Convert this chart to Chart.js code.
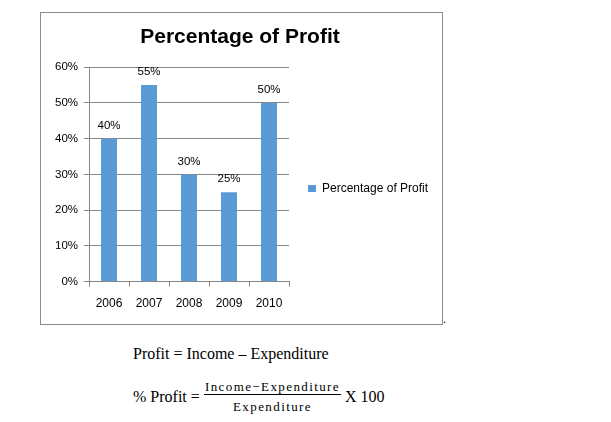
<!DOCTYPE html>
<html>
<head>
<meta charset="utf-8">
<script src="https://cdn.jsdelivr.net/npm/chart.js@4"></script>
<style>
  body { margin: 0; background: #fff; width: 611px; height: 422px; position: relative; overflow: hidden; }
  #box { position: absolute; left: 40px; top: 12px; width: 403px; height: 313px; border: 1px solid #8c8c8c; box-sizing: border-box; }
  #box canvas { display: block; }
  .f { position: absolute; font-family: "Liberation Serif", "DejaVu Serif", serif; font-size: 16px; color: #000; white-space: nowrap; }
  .frac { position: absolute; font-family: "Liberation Serif", serif; font-size: 13px; letter-spacing: 1.4px; text-align: center; white-space: nowrap; }
</style>
</head>
<body>
<div id="box"><canvas id="profitChart" width="401" height="311"></canvas></div>
<div class="f" style="left:443px; top:312px; font-size:12px;">.</div>

<div class="f" style="left:133px; top:345px;">Profit = Income – Expenditure</div>
<div class="f" style="left:133px; top:388px;">% Profit =</div>
<div class="frac" style="left:204px; top:379px; width:137px;">Income−Expenditure</div>
<div style="position:absolute; left:204px; top:394px; width:137px; height:1px; background:#000;"></div>
<div class="frac" style="left:204px; top:399px; width:137px;">Expenditure</div>
<div class="f" style="left:345px; top:388px;">X 100</div>

<script>
// values
const years = ['2006', '2007', '2008', '2009', '2010'];
const profitPct = [40, 55, 30, 25, 50];
const seriesName = 'Percentage of Profit';

const font = "'Liberation Sans', Arial, sans-serif";
const barBlue = '#5b9bd5';
const axisGrey = '#868686';

// writes the value over every bar, like the excel data labels
const valueLabels = {
    id: 'valueLabels',
    afterDatasetsDraw(chart) {
        const ctx = chart.ctx;
        const meta = chart.getDatasetMeta(0);
        ctx.save();
        ctx.font = '11.5px ' + font;
        ctx.fillStyle = '#000';
        ctx.textAlign = 'center';
        ctx.textBaseline = 'middle';
        meta.data.forEach((bar, i) => {
            ctx.fillText(profitPct[i] + '%', bar.x, bar.y - 13);
        });
        ctx.restore();
    }
};

// legend sits in the chartArea slot (so it doesn't squeeze the plot), then gets moved
// out to the right where excel puts it. title gets centred on the whole canvas again.
const excelPlacement = {
    id: 'excelPlacement',
    afterLayout(chart) {
        const lg = chart.legend;
        if (lg) {
            const w = lg.width;
            lg.left = 257; lg.right = 257 + w;
            lg.top = 160; lg.bottom = 191; lg.height = 31;
        }
        const tb = chart.titleBlock;
        if (tb) {
            tb.left = 0; tb.right = 398; tb.width = 398;
        }
    }
};

new Chart(document.getElementById('profitChart'), {
    type: 'bar',
    data: {
        labels: years,
        datasets: [{
            label: seriesName,
            data: profitPct,
            backgroundColor: barBlue,
            categoryPercentage: 1,
            barPercentage: 0.4
        }]
    },
    plugins: [valueLabels, excelPlacement],
    options: {
        responsive: false,
        animation: false,
        devicePixelRatio: 1,
        layout: { padding: { left: 8, right: 153, top: 0, bottom: 3 } },
        plugins: {
            title: {
                display: true,
                text: seriesName,
                color: '#000',
                font: { family: font, size: 21, weight: 'bold' },
                padding: { top: 12, bottom: 17 }
            },
            legend: {
                position: 'chartArea',
                labels: {
                    boxWidth: 8,
                    boxHeight: 7,
                    padding: 10,
                    color: '#000',
                    font: { family: font, size: 12 }
                }
            },
            tooltip: { enabled: false }
        },
        scales: {
            x: {
                grid: { display: true, drawOnChartArea: false, drawTicks: true, tickLength: 5, color: axisGrey, offset: true },
                border: { color: axisGrey },
                ticks: { color: '#000', padding: 10, font: { family: font, size: 12 } }
            },
            y: {
                min: 0,
                max: 60,
                ticks: {
                    stepSize: 10,
                    color: '#000',
                    padding: 6,
                    font: { family: font, size: 11.5 },
                    callback: v => v + '%'
                },
                grid: { color: axisGrey, tickLength: 5 },
                border: { color: axisGrey }
            }
        }
    }
});
</script>
</body>
</html>
